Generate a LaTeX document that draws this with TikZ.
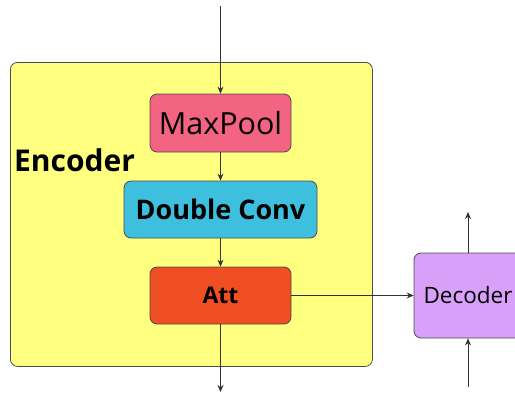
\documentclass[tikz,border=0pt]{standalone}
\usepackage{fontspec}
\setmainfont{Open Sans}
\usetikzlibrary{arrows.meta}
\begin{document}
\begin{tikzpicture}[x=1pt,y=-1pt,
  blk/.style={draw=black!70,line width=0.8pt,rounded corners=7pt,inner sep=0pt},
  conn/.style={draw=black!80,line width=0.9pt,-{Stealth[length=7pt,width=6pt]}}]
  \useasboundingbox (0,0) rectangle (515,394);
  \begin{scope}
  \clip (0,0) rectangle (515,394);
  % encoder frame
  \node[blk,fill={rgb,255:red,255;green,255;blue,128},minimum width=362pt,minimum height=304pt,anchor=north west] (enc) at (10,62) {};
  \node[anchor=west,inner sep=0pt,font=\bfseries\fontsize{30}{34}\selectfont] (enclabel) at (14,160) {Encoder};
  % stages
  \node[blk,fill={rgb,255:red,243;green,99;blue,130},minimum width=141pt,minimum height=58pt,font=\fontsize{30.5}{34}\selectfont] (pool) at (220.5,123) {MaxPool};
  \node[blk,fill={rgb,255:red,61;green,191;blue,221},minimum width=193pt,minimum height=57pt,font=\bfseries\fontsize{27}{30}\selectfont] (conv) at (220.5,209.5) {Double Conv};
  \node[blk,fill={rgb,255:red,240;green,78;blue,35},minimum width=141pt,minimum height=57pt,font=\bfseries\fontsize{23}{26}\selectfont] (att) at (220.5,295.5) {Att};
  % decoder
  \node[blk,fill={rgb,255:red,216;green,160;blue,248},minimum width=108pt,minimum height=85pt,font=\fontsize{22.5}{26}\selectfont] (dec) at (468,295.5) {Decoder};
  % free ends
  \coordinate (in) at (220.5,6);
  \coordinate (out) at (220.5,392);
  \coordinate (decup) at (468,212);
  \coordinate (decin) at (468,387);
  % connectors
  \draw[conn] (in) -- (pool.north);
  \draw[conn] (pool) -- (conv);
  \draw[conn] (conv) -- (att);
  \draw[conn] (att) -- (out);
  \draw[conn] (att) -- (dec);
  \draw[conn] (dec) -- (decup);
  \draw[conn] (decin) -- (dec);
  \end{scope}
\end{tikzpicture}
\end{document}
